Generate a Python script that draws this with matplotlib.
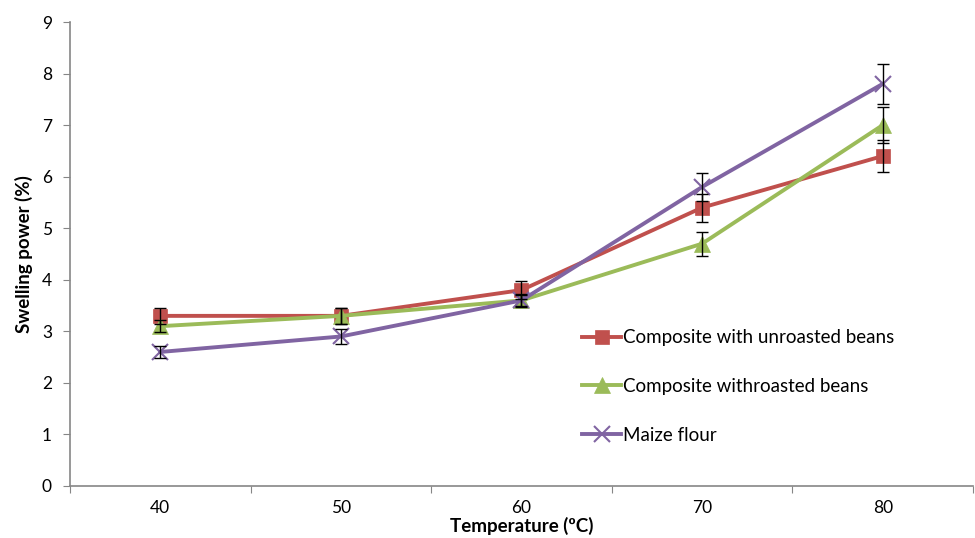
import numpy as np
import matplotlib
matplotlib.use("Agg")
import matplotlib.pyplot as plt

plt.rcParams['font.family'] = ['Lato', 'DejaVu Sans']

temps = [40, 50, 60, 70, 80]

unroasted = [3.3, 3.3, 3.8, 5.4, 6.4]
unroasted_err = [0.15, 0.15, 0.18, 0.27, 0.31]

roasted = [3.1, 3.3, 3.6, 4.7, 7.0]
roasted_err = [0.12, 0.15, 0.12, 0.23, 0.35]

maize = [2.6, 2.9, 3.6, 5.8, 7.8]
maize_err = [0.12, 0.15, 0.1, 0.27, 0.39]

labels = ["Composite with unroasted beans", "Composite withroasted beans", "Maize flour"]

fig = plt.figure(figsize=(9.75, 5.38), dpi=100)
ax = fig.add_axes([70/975, 1-486/538, 903/975, 464/538])

series = [(unroasted, unroasted_err, "#C0504D", "s", 10),
          (roasted, roasted_err, "#9BBB59", "^", 11),
          (maize, maize_err, "#8064A2", "x", 11)]

for (vals, err, col, mk, ms), lab in zip(series, labels):
    ax.errorbar(temps, vals, yerr=err, fmt="none", ecolor="black",
                elinewidth=1.0, capsize=4, capthick=1.0, zorder=4)
    ax.plot(temps, vals, color=col, lw=2.8, marker=mk, markersize=ms,
            markeredgewidth=1.5 if mk == "x" else 0.5, markeredgecolor=col,
            label=lab, zorder=3)

ax.set_xlim(35, 85)
ax.set_ylim(0, 9)
ax.set_yticks(np.arange(0, 10, 1))
ax.set_xticks(np.arange(35, 86, 10))
ax.set_xticklabels([])
ax.set_xticks(temps, minor=True)
ax.set_xticklabels([str(t) for t in temps], minor=True, fontsize=12.5)
ax.tick_params(axis="x", which="minor", length=0, pad=10)
ax.tick_params(axis="x", which="major", length=5, color="#868686")
ax.tick_params(axis="y", length=5, color="#868686", labelsize=12.5, pad=8)

for s in ["top", "right"]:
    ax.spines[s].set_visible(False)
for s in ["left", "bottom"]:
    ax.spines[s].set_color("#868686")
    ax.spines[s].set_linewidth(1.2)

ax.set_ylabel("Swelling power (%)", fontsize=13.5, fontweight="bold", labelpad=6)
ax.set_xlabel("Temperature (ºC)", fontsize=13.5, fontweight="bold", labelpad=1)

ax.legend(loc="upper left", bbox_to_anchor=(0.567, 0.338), frameon=False,
          fontsize=13.5, handlelength=2.1, handletextpad=0.1,
          labelspacing=1.7, borderpad=0, borderaxespad=0)

plt.savefig("out.png", dpi=100)
